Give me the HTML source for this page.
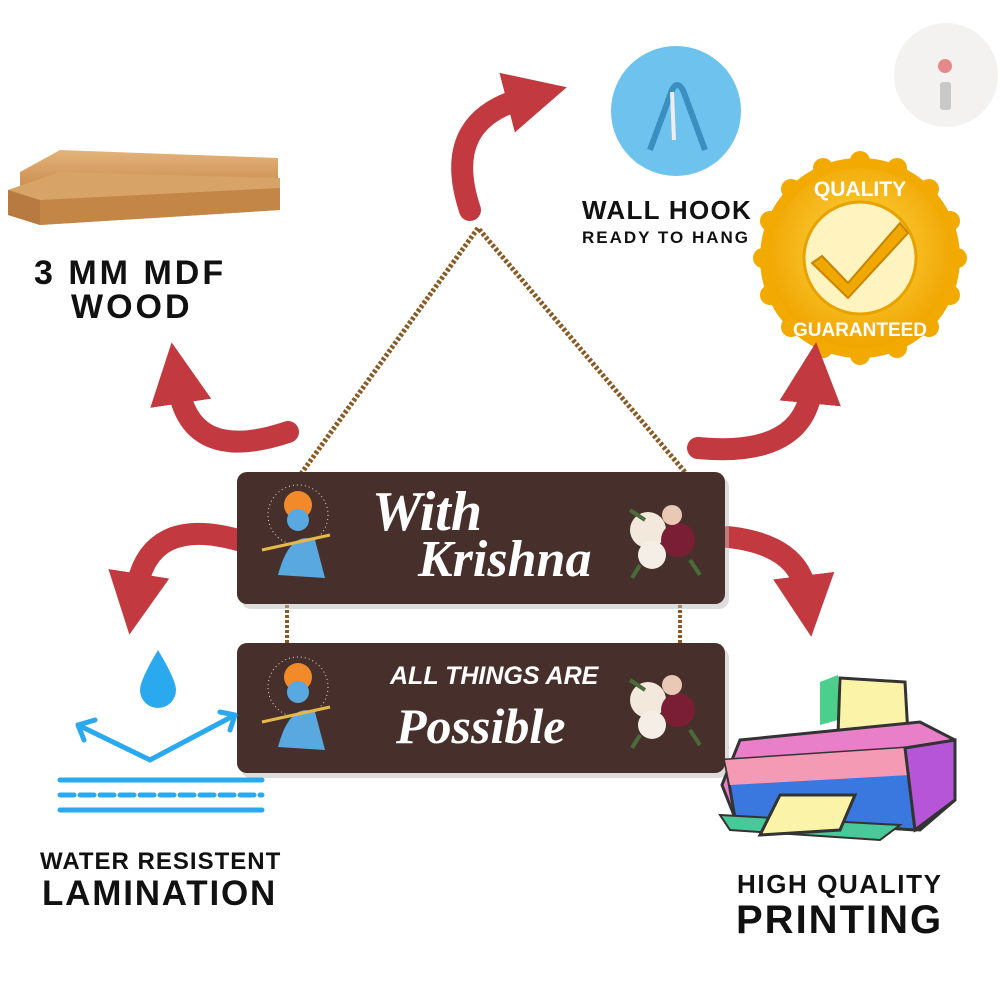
<!DOCTYPE html>
<html><head><meta charset="utf-8"><style>
html,body{margin:0;padding:0;background:#fff;}
.wrap{position:relative;width:1000px;height:1000px;overflow:hidden;font-family:"Liberation Sans",sans-serif;}
.t{position:absolute;font-weight:bold;color:#111;white-space:nowrap;}
</style></head><body><div class="wrap">
<svg width="1000" height="1000" viewBox="0 0 1000 1000" style="position:absolute;left:0;top:0">
<defs>
<marker id="ah" viewBox="0 0 10 10" refX="3" refY="5" markerWidth="2.8" markerHeight="2.8" orient="auto"><path d="M0,0 L10,5 L0,10 Z" fill="#c2393f"/></marker>
<radialGradient id="gold" cx="50%" cy="45%" r="55%"><stop offset="0" stop-color="#ffd84a"/><stop offset="1" stop-color="#f0a500"/></radialGradient>
<linearGradient id="wood" x1="0" y1="0" x2="0" y2="1"><stop offset="0" stop-color="#e3b47a"/><stop offset="1" stop-color="#c98a4b"/></linearGradient>
</defs>
<circle cx="946" cy="75" r="52" fill="#f4f1f1"/>
<rect x="940" y="82" width="11" height="28" rx="3" fill="#c9c9c9"/>
<circle cx="945" cy="66" r="7" fill="#e48a8a"/>
<path d="M20,172 L60,150 L278,158 L278,185 L20,192 Z" fill="url(#wood)"/>
<path d="M8,190 L60,172 L280,178 L280,210 L40,225 L8,215 Z" fill="#d7a366"/>
<path d="M8,190 L40,200 L40,225 L8,215Z" fill="#b77a40"/>
<path d="M40,200 L280,188 L280,210 L40,225Z" fill="#c48646"/>
<circle cx="676" cy="111" r="65" fill="#6ec3ee"/>
<path d="M650,150 L672,90 Q677,80 683,90 L705,150" fill="none" stroke="#3a8fc0" stroke-width="6"/>
<path d="M672,92 L674,140" stroke="#eee" stroke-width="4"/>
<g transform="translate(860,258)">
<circle r="100" fill="#f2a900"/>
<g fill="#f2a900">
<circle cx="0" cy="-97" r="10"/><circle cx="0" cy="97" r="10"/><circle cx="97" cy="0" r="10"/><circle cx="-97" cy="0" r="10"/>
<circle cx="69" cy="69" r="10"/><circle cx="-69" cy="69" r="10"/><circle cx="69" cy="-69" r="10"/><circle cx="-69" cy="-69" r="10"/>
<circle cx="37" cy="-90" r="10"/><circle cx="-37" cy="-90" r="10"/><circle cx="37" cy="90" r="10"/><circle cx="-37" cy="90" r="10"/>
<circle cx="90" cy="37" r="10"/><circle cx="-90" cy="37" r="10"/><circle cx="90" cy="-37" r="10"/><circle cx="-90" cy="-37" r="10"/>
</g>
<circle r="90" fill="url(#gold)"/>
<circle r="56" fill="#fff3c0" stroke="#e8a200" stroke-width="3"/>
<path d="M-38,-2 L-12,25 L40,-35 L48,-25 L-12,40 L-48,5 Z" fill="#f0a800" stroke="#c88400" stroke-width="2"/>
<text x="0" y="-62" text-anchor="middle" font-family="Liberation Sans" font-weight="bold" font-size="21" fill="#fff">QUALITY</text>
<text x="0" y="78" text-anchor="middle" font-family="Liberation Sans" font-weight="bold" font-size="19" fill="#fff">GUARANTEED</text>
</g>
<g fill="none" stroke="#c2393f" stroke-width="22" stroke-linecap="round" marker-end="url(#ah)">
<path d="M470,210 Q440,120 525,98"/>
<path d="M288,432 Q190,465 178,385"/>
<path d="M698,448 Q805,458 812,385"/>
<path d="M238,540 Q148,515 136,592"/>
<path d="M728,537 Q800,545 806,594"/>
</g>
<path d="M298,478 L478,228 L690,478" fill="none" stroke="#8a5a25" stroke-width="5" stroke-dasharray="3,2"/>
<line x1="287" y1="600" x2="287" y2="648" stroke="#8a5a25" stroke-width="4" stroke-dasharray="3,2"/>
<line x1="680" y1="600" x2="680" y2="648" stroke="#8a5a25" stroke-width="4" stroke-dasharray="3,2"/>
<rect x="241" y="477" width="488" height="132" rx="10" fill="#bbb" opacity="0.5"/>
<rect x="237" y="472" width="488" height="132" rx="10" fill="#47302b"/>
<rect x="241" y="648" width="488" height="130" rx="10" fill="#bbb" opacity="0.5"/>
<rect x="237" y="643" width="488" height="130" rx="10" fill="#47302b"/>
<g id="k1">
<circle cx="298" cy="515" r="30" fill="none" stroke="#ddd" stroke-width="1" stroke-dasharray="1,3"/>
<circle cx="298" cy="505" r="14" fill="#f28a2a"/>
<circle cx="298" cy="520" r="11" fill="#5aa8e0"/>
<path d="M278,575 Q290,530 315,540 L325,578 Z" fill="#5aa8e0"/>
<line x1="262" y1="550" x2="330" y2="535" stroke="#e6b84a" stroke-width="3"/>
</g>
<use href="#k1" transform="translate(0,172)"/>
<g id="f1">
<circle cx="648" cy="530" r="18" fill="#f2e9dc"/>
<circle cx="678" cy="540" r="17" fill="#7a1e35"/>
<circle cx="652" cy="555" r="14" fill="#f5eee6"/>
<circle cx="672" cy="515" r="10" fill="#e9c9b5"/>
<path d="M630,510 L645,520 M690,560 L700,575 M640,565 L632,578" stroke="#4a6b3a" stroke-width="4"/>
</g>
<use href="#f1" transform="translate(0,170)"/>
<path d="M158,650 Q140,680 140,690 A18,18 0 0 0 176,690 Q176,680 158,650 Z" fill="#2aa9ee"/>
<g stroke="#2aa9ee" stroke-width="5" fill="none" stroke-linecap="round">
<path d="M78,725 L150,760 L235,715"/>
<path d="M78,725 L95,720 M78,725 L84,740"/>
<path d="M235,715 L220,712 M235,715 L230,730"/>
<line x1="60" y1="780" x2="262" y2="780"/>
<line x1="60" y1="795" x2="262" y2="795" stroke-dasharray="14,6"/>
<line x1="60" y1="810" x2="262" y2="810"/>
</g>
<path d="M820,682 L838,675 L838,720 L820,725 Z" fill="#4ccf8a"/>
<path d="M840,678 L905,682 L908,735 L838,735 Z" fill="#fbf4a8" stroke="#333" stroke-width="3"/>
<path d="M740,740 L920,722 L955,740 L955,800 L920,830 L735,818 L722,785 Z" fill="#e87fc8" stroke="#333" stroke-width="3"/>
<path d="M725,760 L905,748 L915,830 L735,818 Z" fill="#3a78e0" stroke="#333" stroke-width="3"/>
<path d="M725,760 L905,748 L910,775 L730,785 Z" fill="#f59ab5"/>
<path d="M905,748 L955,740 L955,800 L915,830 Z" fill="#b655d8" stroke="#333" stroke-width="3"/>
<path d="M720,815 L900,825 L880,840 L730,830 Z" fill="#49c89a" stroke="#333" stroke-width="2"/>
<path d="M780,795 L855,795 L840,830 L760,835 Z" fill="#fbf4a8" stroke="#333" stroke-width="3"/>
</svg>
<div class="t" style="left:34px;top:254px;font-size:34px;letter-spacing:3px">3 MM MDF</div>
<div class="t" style="left:71px;top:288px;font-size:34px;letter-spacing:3px">WOOD</div>
<div class="t" style="left:582px;top:195px;font-size:26px;letter-spacing:1.3px">WALL HOOK</div>
<div class="t" style="left:582px;top:228px;font-size:17px;letter-spacing:2px">READY TO HANG</div>
<div class="t" style="left:40px;top:848px;font-size:24px;letter-spacing:1px">WATER RESISTENT</div>
<div class="t" style="left:42px;top:874px;font-size:35px;letter-spacing:1.8px">LAMINATION</div>
<div class="t" style="left:737px;top:869px;font-size:26px;letter-spacing:1.6px">HIGH QUALITY</div>
<div class="t" style="left:736px;top:898px;font-size:40px;letter-spacing:2px">PRINTING</div>
<div class="t" style="left:372px;top:480px;font-size:56px;color:#fff;font-family:'Liberation Serif',serif;font-style:italic">With</div>
<div class="t" style="left:418px;top:530px;font-size:52px;color:#fff;font-family:'Liberation Serif',serif;font-style:italic">Krishna</div>
<div class="t" style="left:390px;top:662px;font-size:25px;color:#fff;font-family:'Liberation Sans',sans-serif;font-style:italic">ALL THINGS ARE</div>
<div class="t" style="left:396px;top:697px;font-size:50px;color:#fff;font-family:'Liberation Serif',serif;font-style:italic">Possible</div>
</div></body></html>
